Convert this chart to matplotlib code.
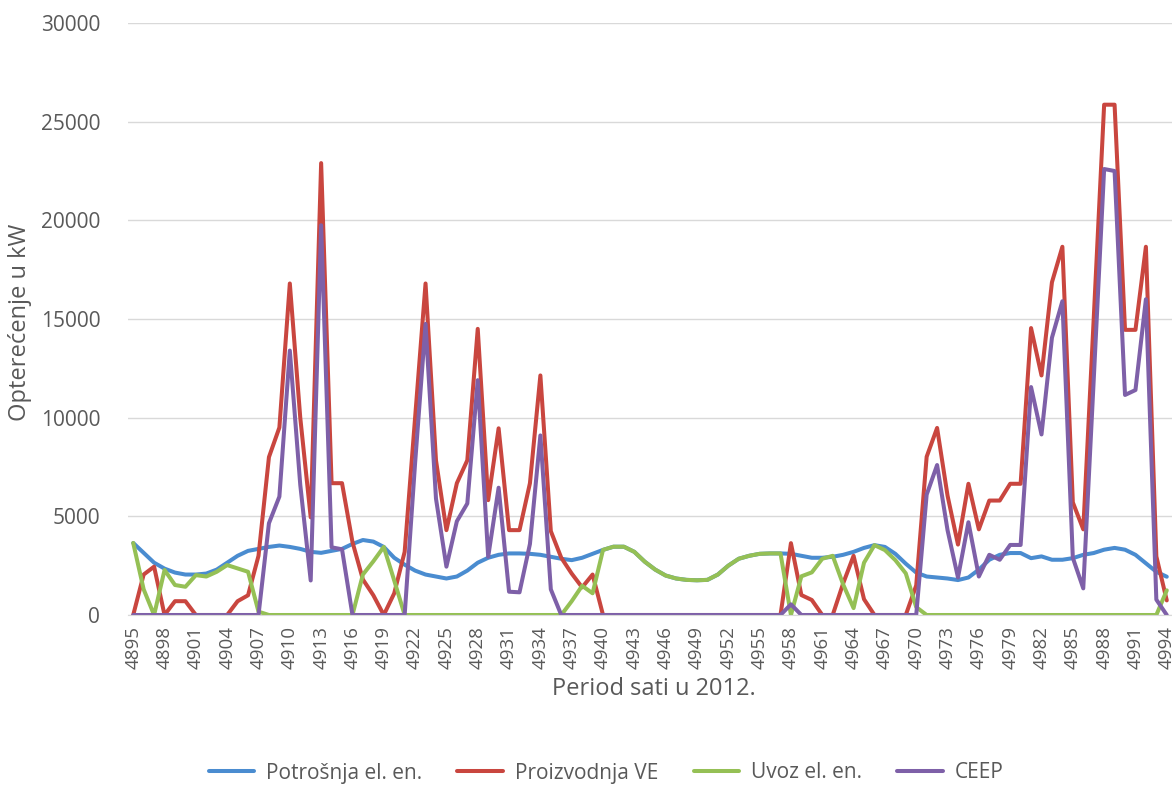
import numpy as np
import matplotlib
matplotlib.use("Agg")
import matplotlib.pyplot as plt

plt.rcParams['font.family'] = ['Open Sans', 'DejaVu Sans']

sati = list(range(4895, 4995))

potrosnja = [3650, 3150, 2650, 2350, 2150, 2050, 2050, 2100, 2300, 2650,
             3000, 3250, 3350, 3450, 3520, 3450, 3350, 3200, 3150, 3250,
             3350, 3600, 3800, 3720, 3450, 2900, 2550, 2250, 2050, 1950,
             1850, 1950, 2250, 2650, 2900, 3050, 3120, 3120, 3100, 3050,
             2950, 2850, 2780, 2900, 3100, 3300, 3460, 3460, 3200, 2700,
             2300, 2000, 1850, 1780, 1760, 1780, 2050, 2500, 2850, 3000,
             3100, 3120, 3120, 3100, 3000, 2900, 2900, 2950, 3050, 3200,
             3400, 3540, 3450, 3100, 2600, 2150, 1950, 1900, 1850, 1770,
             1900, 2300, 2800, 3050, 3140, 3140, 2880, 2970, 2800, 2800,
             2880, 3050, 3140, 3310, 3400, 3310, 3050, 2620, 2190, 1940]

proizvodnja = [0, 2050, 2450, 0, 700, 700, 0, 0, 0, 0,
               700, 1000, 3000, 8000, 9500, 16800, 10000, 4950, 22900, 6680,
               6680, 3700, 1800, 1000, 0, 1100, 3200, 10000, 16800, 7840,
               4300, 6680, 7840, 14500, 5820, 9460, 4300, 4300, 6680, 12140,
               4250, 2900, 2100, 1400, 2050, 0, 0, 0, 0, 0,
               0, 0, 0, 0, 0, 0, 0, 0, 0, 0,
               0, 0, 0, 3640, 1010, 760, 0, 0, 1600, 3000,
               800, 0, 0, 0, 0, 1500, 8020, 9480, 6050, 3570,
               6650, 4340, 5800, 5800, 6650, 6650, 14540, 12140, 16860, 18660,
               5710, 4340, 15000, 25860, 25860, 14450, 14450, 18660, 2970, 740]

uvoz = [3650, 1300, 0, 2280, 1520, 1430, 2020, 1950, 2190, 2530,
        2360, 2190, 170, 0, 0, 0, 0, 0, 0, 0,
        0, 0, 2050, 2720, 3450, 1750, 0, 0, 0, 0,
        0, 0, 0, 0, 0, 0, 0, 0, 0, 0,
        0, 0, 700, 1480, 1100, 3300, 3460, 3460, 3200, 2700,
        2300, 2000, 1850, 1780, 1760, 1780, 2050, 2500, 2850, 3000,
        3100, 3120, 3120, 0, 1960, 2160, 2850, 3000, 1550, 350,
        2650, 3540, 3290, 2780, 2110, 400, 0, 0, 0, 0,
        0, 0, 0, 0, 0, 0, 0, 0, 0, 0,
        0, 0, 0, 0, 0, 0, 0, 0, 0, 1250]

ceep = [0, 0, 0, 0, 0, 0, 0, 0, 0, 0,
        0, 0, 0, 4650, 6000, 13400, 6600, 1750, 19750, 3430,
        3330, 0, 0, 0, 0, 0, 0, 7700, 14750, 5900,
        2450, 4750, 5650, 11900, 2950, 6450, 1180, 1150, 3600, 9100,
        1300, 0, 0, 0, 0, 0, 0, 0, 0, 0,
        0, 0, 0, 0, 0, 0, 0, 0, 0, 0,
        0, 0, 0, 540, 0, 0, 0, 0, 0, 0,
        0, 0, 0, 0, 0, 0, 6100, 7600, 4300, 1900,
        4700, 1950, 3050, 2800, 3550, 3550, 11550, 9150, 14050, 15900,
        2900, 1350, 11900, 22600, 22500, 11150, 11400, 16000, 780, 0]

nazivi = ["Potrošnja el. en.", "Proizvodnja VE", "Uvoz el. en.", "CEEP"]
boje = ["#4A8CD0", "#C9463F", "#95C055", "#7E60A8"]

W, H = 1172, 787
fig = plt.figure(figsize=(W / 100, H / 100), dpi=100)
ax = fig.add_axes([128 / W, 1 - 615 / H, (1172 - 128) / W, (615 - 23) / H])

serije = [potrosnja, proizvodnja, uvoz, ceep]
for vals, naziv, boja in zip(serije, nazivi, boje):
    ax.plot(sati, vals, color=boja, lw=2.9, label=naziv,
            solid_joinstyle='round', solid_capstyle='round')

ax.set_xlim(4894.5, 4994.5)
ax.set_ylim(0, 30000)
ax.set_yticks(range(0, 30001, 5000))
ax.set_xticks(sati[::3])
ax.set_xticklabels([str(s) for s in sati[::3]], rotation=90)

txt = "#595959"
ax.grid(axis='y', color='#D9D9D9', lw=1)
ax.set_axisbelow(True)
for s in ['top', 'right', 'left']:
    ax.spines[s].set_visible(False)
ax.spines['bottom'].set_color('#D9D9D9')
ax.tick_params(axis='y', length=0, pad=20, labelsize=15, labelcolor=txt)
ax.tick_params(axis='x', length=0, pad=8, labelsize=13.5, labelcolor=txt)

fig.text(20 / W, 1 - 322 / H, "Opterećenje u kW", rotation=90, ha='center',
         va='center', fontsize=17, color=txt)
fig.text(654 / W, 1 - 689 / H, "Period sati u 2012.", ha='center',
         va='center', fontsize=17, color=txt)

leg = fig.legend(loc='center', bbox_to_anchor=(606 / W, 1 - 773 / H), ncol=4,
                 frameon=False, fontsize=15, handlelength=2.2,
                 columnspacing=1.7, handletextpad=0.55)
for t in leg.get_texts():
    t.set_color(txt)

fig.savefig("out.png", dpi=100)
